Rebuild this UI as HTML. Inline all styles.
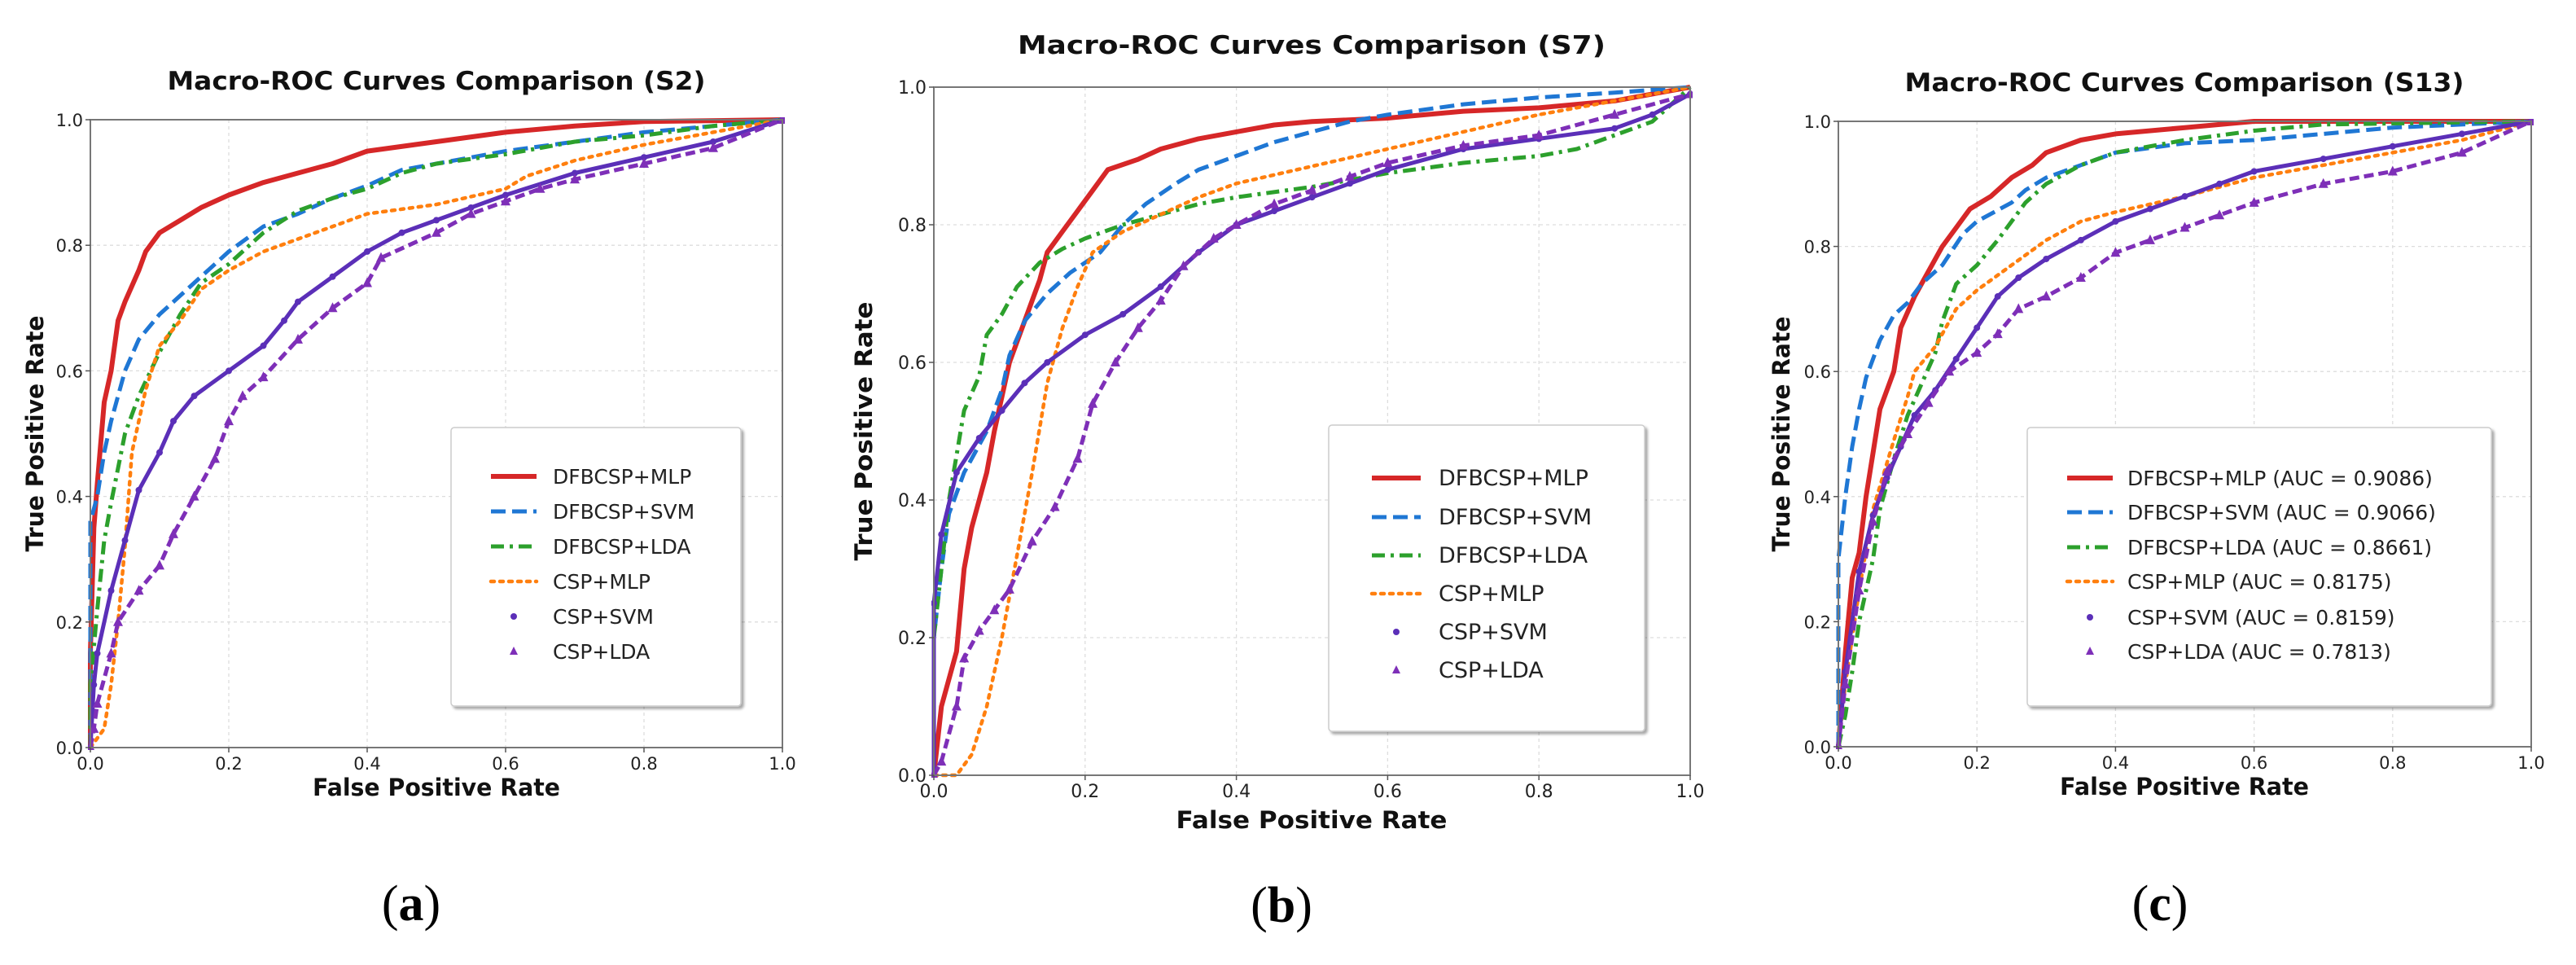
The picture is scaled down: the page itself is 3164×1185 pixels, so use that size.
<!DOCTYPE html>
<html><head><meta charset="utf-8"><style>
html,body{margin:0;padding:0;background:#fff;}
svg{display:block;font-family:"DejaVu Sans","Liberation Sans",sans-serif;}
</style></head><body>
<svg id="fig" width="3164" height="1185" viewBox="0 0 3164 1185" xmlns="http://www.w3.org/2000/svg">
<defs><filter id="sh" x="-5%" y="-5%" width="115%" height="115%"><feDropShadow dx="3" dy="3" stdDeviation="1.5" flood-color="#000" flood-opacity="0.35"/></filter></defs>
</svg>
<script>
const seriesNames = ["DFBCSP+MLP","DFBCSP+SVM","DFBCSP+LDA","CSP+MLP","CSP+SVM","CSP+LDA"];
const aucC = ["0.9086","0.9066","0.8661","0.8175","0.8159","0.7813"];
const xTicks = [0,0.2,0.4,0.6,0.8,1.0];
const yTicks = [0,0.2,0.4,0.6,0.8,1.0];
const tickLabels = ["0.0","0.2","0.4","0.6","0.8","1.0"];

const s2_dfbcsp_mlp = [[0,0],[0,0.15],[0.005,0.35],[0.01,0.42],[0.02,0.55],[0.03,0.6],[0.04,0.68],[0.05,0.71],[0.07,0.76],[0.08,0.79],[0.1,0.82],[0.13,0.84],[0.16,0.86],[0.2,0.88],[0.25,0.9],[0.3,0.915],[0.35,0.93],[0.4,0.95],[0.5,0.965],[0.6,0.98],[0.7,0.99],[0.8,0.997],[1,1]];
const s2_dfbcsp_svm = [[0,0],[0,0.36],[0.01,0.4],[0.02,0.47],[0.03,0.52],[0.05,0.6],[0.07,0.65],[0.1,0.69],[0.13,0.72],[0.17,0.76],[0.2,0.79],[0.25,0.83],[0.3,0.85],[0.35,0.875],[0.4,0.895],[0.45,0.92],[0.5,0.93],[0.6,0.95],[0.7,0.965],[0.8,0.98],[0.9,0.99],[1,1]];
const s2_dfbcsp_lda = [[0,0],[0,0.1],[0.01,0.22],[0.02,0.33],[0.03,0.39],[0.05,0.5],[0.07,0.56],[0.1,0.63],[0.13,0.69],[0.16,0.74],[0.2,0.77],[0.25,0.82],[0.3,0.855],[0.35,0.875],[0.4,0.89],[0.45,0.915],[0.5,0.93],[0.6,0.945],[0.7,0.965],[0.8,0.975],[0.9,0.99],[1,1]];
const s2_csp_mlp = [[0,0],[0.02,0.03],[0.03,0.1],[0.04,0.2],[0.05,0.32],[0.06,0.47],[0.08,0.57],[0.1,0.64],[0.13,0.68],[0.16,0.73],[0.2,0.76],[0.25,0.79],[0.3,0.81],[0.35,0.83],[0.4,0.85],[0.5,0.865],[0.6,0.89],[0.63,0.91],[0.7,0.935],[0.8,0.96],[0.9,0.98],[1,1]];
const s2_csp_svm = [[0,0],[0.005,0.1],[0.01,0.15],[0.03,0.25],[0.05,0.33],[0.07,0.41],[0.1,0.47],[0.12,0.52],[0.15,0.56],[0.2,0.6],[0.25,0.64],[0.28,0.68],[0.3,0.71],[0.35,0.75],[0.4,0.79],[0.45,0.82],[0.5,0.84],[0.55,0.86],[0.6,0.88],[0.7,0.915],[0.8,0.94],[0.9,0.965],[1,1]];
const s2_csp_lda = [[0,0],[0.005,0.03],[0.01,0.07],[0.03,0.15],[0.04,0.2],[0.07,0.25],[0.1,0.29],[0.12,0.34],[0.15,0.4],[0.18,0.46],[0.2,0.52],[0.22,0.56],[0.25,0.59],[0.3,0.65],[0.35,0.7],[0.4,0.74],[0.42,0.78],[0.5,0.82],[0.55,0.85],[0.6,0.87],[0.65,0.89],[0.7,0.905],[0.8,0.93],[0.9,0.955],[1,1]];

const s7_dfbcsp_mlp = [[0,0],[0.01,0.1],[0.03,0.18],[0.04,0.3],[0.05,0.36],[0.07,0.44],[0.08,0.5],[0.1,0.6],[0.12,0.66],[0.14,0.72],[0.15,0.76],[0.17,0.79],[0.19,0.82],[0.21,0.85],[0.23,0.88],[0.27,0.895],[0.3,0.91],[0.35,0.925],[0.4,0.935],[0.45,0.945],[0.5,0.95],[0.6,0.955],[0.7,0.965],[0.8,0.97],[0.9,0.98],[1,1]];
const s7_dfbcsp_svm = [[0,0],[0,0.2],[0.01,0.3],[0.02,0.38],[0.04,0.44],[0.07,0.5],[0.09,0.56],[0.1,0.61],[0.12,0.66],[0.15,0.7],[0.18,0.73],[0.22,0.76],[0.25,0.8],[0.28,0.83],[0.32,0.86],[0.35,0.88],[0.4,0.9],[0.45,0.92],[0.5,0.935],[0.55,0.95],[0.6,0.96],[0.7,0.975],[0.8,0.985],[0.9,0.992],[1,1]];
const s7_dfbcsp_lda = [[0,0],[0,0.2],[0.02,0.4],[0.04,0.53],[0.06,0.58],[0.07,0.64],[0.09,0.67],[0.11,0.71],[0.14,0.745],[0.17,0.765],[0.2,0.78],[0.25,0.8],[0.3,0.815],[0.35,0.83],[0.4,0.84],[0.5,0.855],[0.6,0.875],[0.7,0.89],[0.8,0.9],[0.85,0.91],[0.9,0.93],[0.95,0.95],[1,1]];
const s7_csp_mlp = [[0,0],[0.03,0],[0.05,0.03],[0.07,0.1],[0.09,0.2],[0.11,0.32],[0.13,0.44],[0.15,0.57],[0.17,0.65],[0.19,0.71],[0.21,0.76],[0.25,0.79],[0.3,0.815],[0.35,0.84],[0.4,0.86],[0.5,0.885],[0.6,0.91],[0.7,0.935],[0.8,0.96],[0.9,0.98],[1,1]];
const s7_csp_svm = [[0,0],[0,0.25],[0.01,0.35],[0.03,0.44],[0.06,0.49],[0.09,0.53],[0.12,0.57],[0.15,0.6],[0.2,0.64],[0.25,0.67],[0.3,0.71],[0.35,0.76],[0.4,0.8],[0.45,0.82],[0.5,0.84],[0.55,0.86],[0.6,0.88],[0.7,0.91],[0.8,0.925],[0.9,0.94],[0.95,0.96],[1,0.99]];
const s7_csp_lda = [[0,0],[0.01,0.02],[0.03,0.1],[0.04,0.17],[0.06,0.21],[0.08,0.24],[0.1,0.27],[0.13,0.34],[0.16,0.39],[0.19,0.46],[0.21,0.54],[0.24,0.6],[0.27,0.65],[0.3,0.69],[0.33,0.74],[0.37,0.78],[0.4,0.8],[0.45,0.83],[0.5,0.85],[0.55,0.87],[0.6,0.89],[0.7,0.915],[0.8,0.93],[0.9,0.96],[1,0.99]];

const s13_dfbcsp_mlp = [[0,0],[0.01,0.15],[0.02,0.27],[0.03,0.31],[0.04,0.4],[0.05,0.47],[0.06,0.54],[0.08,0.6],[0.09,0.67],[0.11,0.72],[0.13,0.76],[0.15,0.8],[0.17,0.83],[0.19,0.86],[0.22,0.88],[0.25,0.91],[0.28,0.93],[0.3,0.95],[0.35,0.97],[0.4,0.98],[0.5,0.99],[0.6,1],[1,1]];
const s13_dfbcsp_svm = [[0,0],[0,0.3],[0.01,0.4],[0.02,0.48],[0.03,0.54],[0.04,0.59],[0.06,0.65],[0.08,0.69],[0.1,0.71],[0.12,0.74],[0.15,0.77],[0.18,0.82],[0.2,0.84],[0.25,0.87],[0.27,0.89],[0.3,0.91],[0.35,0.93],[0.4,0.95],[0.5,0.965],[0.6,0.97],[0.7,0.98],[0.8,0.99],[1,1]];
const s13_dfbcsp_lda = [[0,0],[0.01,0.05],[0.02,0.12],[0.03,0.2],[0.05,0.3],[0.06,0.38],[0.08,0.46],[0.1,0.53],[0.12,0.58],[0.14,0.63],[0.15,0.68],[0.17,0.74],[0.2,0.77],[0.23,0.81],[0.25,0.84],[0.27,0.87],[0.3,0.9],[0.35,0.93],[0.4,0.95],[0.5,0.97],[0.6,0.985],[0.7,0.995],[1,1]];
const s13_csp_mlp = [[0,0],[0.01,0.1],[0.03,0.25],[0.05,0.38],[0.08,0.49],[0.1,0.56],[0.11,0.6],[0.14,0.64],[0.17,0.7],[0.2,0.73],[0.25,0.77],[0.3,0.81],[0.35,0.84],[0.4,0.855],[0.5,0.88],[0.6,0.91],[0.7,0.93],[0.8,0.95],[0.9,0.97],[1,1]];
const s13_csp_svm = [[0,0],[0.01,0.12],[0.03,0.28],[0.05,0.37],[0.07,0.43],[0.09,0.48],[0.11,0.53],[0.14,0.57],[0.17,0.62],[0.2,0.67],[0.23,0.72],[0.26,0.75],[0.3,0.78],[0.35,0.81],[0.4,0.84],[0.45,0.86],[0.5,0.88],[0.55,0.9],[0.6,0.92],[0.7,0.94],[0.8,0.96],[0.9,0.98],[1,1]];
const s13_csp_lda = [[0,0],[0.01,0.1],[0.03,0.25],[0.05,0.36],[0.07,0.44],[0.1,0.5],[0.13,0.55],[0.16,0.6],[0.2,0.63],[0.23,0.66],[0.26,0.7],[0.3,0.72],[0.35,0.75],[0.4,0.79],[0.45,0.81],[0.5,0.83],[0.55,0.85],[0.6,0.87],[0.7,0.9],[0.8,0.92],[0.9,0.95],[1,1]];

const NS = "http://www.w3.org/2000/svg";
const svg = document.getElementById("fig");
const COLORS = ["#d62728","#1f77d4","#2ca02c","#ff7f0e","#5b2fb8","#7e2fb8"];
const DASH = [null,"18,8","16,7,4,7","4,7",null,"12,6"];
const WID = [6,5,5,4.5,5,5];

function mk(tag, attrs, parent){
  const e = document.createElementNS(NS, tag);
  for (const k in attrs) e.setAttribute(k, attrs[k]);
  (parent||svg).appendChild(e);
  return e;
}
function txt(s, attrs, parent){ const t = mk("text", attrs, parent); t.textContent = s; return t; }

function panel(P){
  const g = mk("g", {});
  
  
  const X = v => P.x0 + v*(P.x1-P.x0);
  const Y = v => P.y1 - v*(P.y1-P.y0);
  xTicks.forEach((v,i)=>{
    const l = mk("line",{x1:X(v),x2:X(v),y1:P.y0,y2:P.y1,stroke:"#ddd","stroke-width":1.3,"stroke-dasharray":"4,4"},g);
    
    
  });
  yTicks.forEach(v=>{
    const l = mk("line",{x1:P.x0,x2:P.x1,y1:Y(v),y2:Y(v),stroke:"#ddd","stroke-width":1.3,"stroke-dasharray":"4,4"},g);
    
    
  });
  const clip = mk("clipPath",{id:"clip"+P.id},g);
  mk("rect",{x:P.x0-3,y:P.y0-3,width:P.x1-P.x0+6,height:P.y1-P.y0+6},clip);
  const sg = mk("g",{"clip-path":"url(#clip"+P.id+")"},g);
  P.series.forEach((data,i)=>{
    const d = data.map((p,j)=>(j?"L":"M")+X(p[0]).toFixed(1)+","+Y(p[1]).toFixed(1)).join(" ");
    const a = {d:d,fill:"none",stroke:COLORS[i],"stroke-width":WID[i],"stroke-linejoin":"round"};
    if (DASH[i]) a["stroke-dasharray"]=DASH[i];
    if (i===3) a["stroke-linecap"]="round";
    const path = mk("path",a,sg);
    
    
    if (i===4) data.forEach(p=>{
      const c = mk("circle",{cx:X(p[0]),cy:Y(p[1]),r:4,fill:COLORS[i]},sg);
      
      
    });
    if (i===5) data.forEach(p=>{
      const x=X(p[0]), y=Y(p[1]);
      const t = mk("polygon",{points:`${x},${y-7} ${x-6},${y+5} ${x+6},${y+5}`,fill:COLORS[i]},sg);
      
      
    });
  });
  const fr = mk("rect",{x:P.x0,y:P.y0,width:P.x1-P.x0,height:P.y1-P.y0,fill:"none",stroke:"#777","stroke-width":2},g);
  
  
  xTicks.forEach((v,i)=>{
    mk("line",{x1:X(v),x2:X(v),y1:P.y1,y2:P.y1+6,stroke:"#555","stroke-width":1.5},g);
    const t = txt(tickLabels[i],{x:X(v),y:P.y1+27,"text-anchor":"middle","font-size":P.tf,fill:"#222"},g);
    
    
  });
  yTicks.forEach((v,i)=>{
    mk("line",{x1:P.x0-6,x2:P.x0,y1:Y(v),y2:Y(v),stroke:"#555","stroke-width":1.5},g);
    const t = txt(tickLabels[i],{x:P.x0-9,y:Y(v)+8,"text-anchor":"end","font-size":P.tf,fill:"#222"},g);
    
    
  });
  const ti = txt(P.title,{x:P.tx,y:P.ty+11,"text-anchor":"middle","font-size":31,"font-weight":"bold",textLength:P.tw,lengthAdjust:"spacingAndGlyphs",fill:"#111"},g);
  
  
  const xl = txt("False Positive Rate",{x:P.xlx,y:P.xly+11,"text-anchor":"middle","font-size":29,"font-weight":"bold",textLength:P.xlw,lengthAdjust:"spacingAndGlyphs",fill:"#111"},g);
  
  
  const cy = (P.y0+P.y1)/2;
  const yl = txt("True Positive Rate",{x:P.ylx+11,y:cy,"text-anchor":"middle","font-size":29,"font-weight":"bold",textLength:P.ylw,lengthAdjust:"spacingAndGlyphs",fill:"#111",transform:`rotate(-90 ${P.ylx+11} ${cy})`},g);
  
  
  const L = P.leg;
  const lg = mk("g",{},g);
  
  
  mk("rect",{x:L.x0,y:L.y0,width:L.x1-L.x0,height:L.y1-L.y0,rx:4,fill:"#fff",stroke:"#ccc","stroke-width":1.5,filter:"url(#sh)"},lg);
  seriesNames.forEach((n,i)=>{
    const y = L.ys[i];
    if (i<4){
      const a = {x1:L.hx0,x2:L.hx1,y1:y,y2:y,stroke:COLORS[i],"stroke-width":WID[i]};
      if (DASH[i]) a["stroke-dasharray"]=DASH[i];
      if (i===3) a["stroke-linecap"]="round";
      mk("line",a,lg);
    } else if (i===4){
      mk("circle",{cx:(L.hx0+L.hx1)/2,cy:y,r:4,fill:COLORS[i]},lg);
    } else {
      const x=(L.hx0+L.hx1)/2;
      mk("polygon",{points:`${x},${y-6} ${x-5},${y+4} ${x+5},${y+4}`,fill:COLORS[i]},lg);
    }
    const label = P.auc ? `${n} (AUC = ${P.auc[i]})` : n;
    const t = txt(label,{x:L.tx,y:y+9,"font-size":L.fs,fill:"#222"},lg);
    
    
  });
  const cap = mk("text",{x:P.capx,y:P.capy+20,"text-anchor":"middle","font-size":62,"font-family":"'Liberation Serif',serif",fill:"#000"},g);
  cap.innerHTML = `(<tspan font-weight="bold">${P.cap}</tspan>)`;
  
  
}

panel({id:"s2",x0:111,x1:961,y0:147,y1:918,tf:21,title:"Macro-ROC Curves Comparison (S2)",tx:536,ty:99,tw:661,
  xlx:536,xly:966,xlw:304,ylx:42,ylw:290,cap:"a",capx:505,capy:1110,
  series:[s2_dfbcsp_mlp,s2_dfbcsp_svm,s2_dfbcsp_lda,s2_csp_mlp,s2_csp_svm,s2_csp_lda],
  leg:{x0:554,x1:910,y0:525,y1:867,hx0:603,hx1:659,tx:679,fs:25,ys:[585,628,671,714,757,800]}});
panel({id:"s7",x0:1147,x1:2076,y0:107,y1:952,tf:22,title:"Macro-ROC Curves Comparison (S7)",tx:1611,ty:55,tw:722,
  xlx:1611,xly:1006,xlw:333,ylx:1060,ylw:318,cap:"b",capx:1574,capy:1112,
  series:[s7_dfbcsp_mlp,s7_dfbcsp_svm,s7_dfbcsp_lda,s7_csp_mlp,s7_csp_svm,s7_csp_lda],
  leg:{x0:1632,x1:2020,y0:522,y1:898,hx0:1685,hx1:1745,tx:1767,fs:27,ys:[587,635,682,729,776,823]}});
panel({id:"s13",x0:2258,x1:3109,y0:149,y1:917,tf:21,title:"Macro-ROC Curves Comparison (S13)",tx:2683,ty:101,tw:687,
  xlx:2683,xly:965,xlw:306,ylx:2187,ylw:289,cap:"c",capx:2653,capy:1110,auc:aucC,
  series:[s13_dfbcsp_mlp,s13_dfbcsp_svm,s13_dfbcsp_lda,s13_csp_mlp,s13_csp_svm,s13_csp_lda],
  leg:{x0:2490,x1:3060,y0:525,y1:867,hx0:2539,hx1:2595,tx:2613,fs:25,ys:[587,629,672,714,758,800]}});
</script>
</body></html>
